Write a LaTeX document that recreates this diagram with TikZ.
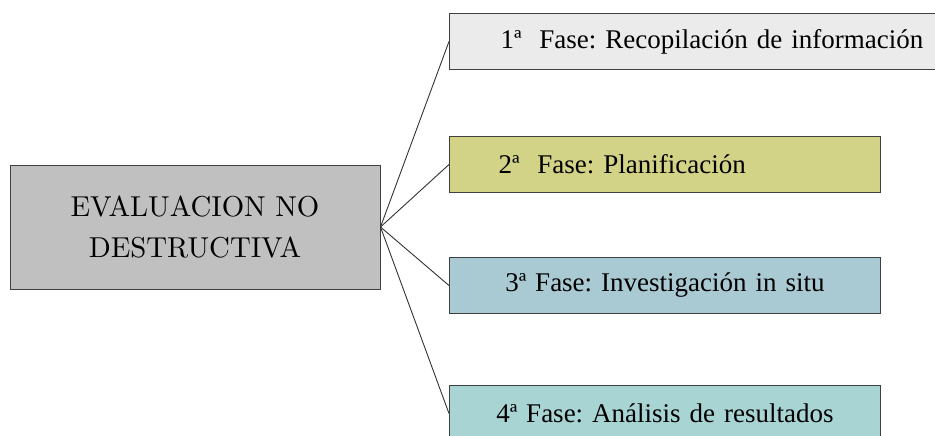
\documentclass[tikz,border=0pt]{standalone}
\usepackage{fontspec}
\newfontfamily\timesfont{Liberation Serif}
\newfontfamily\rootfont{lmroman10-regular.otf}
\definecolor{rootfill}{HTML}{C0C0C0}
\definecolor{edgegray}{HTML}{404040}
\definecolor{phaseone}{HTML}{EBEBEB}
\definecolor{phasetwo}{HTML}{D3D387}
\definecolor{phasethree}{HTML}{A9C9D3}
\definecolor{phasefour}{HTML}{A8D4D4}
\frenchspacing
\begin{document}
\begin{tikzpicture}[x=1pt,y=-1pt,
  rootbox/.style={draw=edgegray, line width=1pt, fill=rootfill,
    minimum width=370pt, minimum height=124pt, inner sep=0pt,
    align=center, font=\rootfont\fontsize{28.8}{41}\selectfont},
  phasebox/.style={draw=edgegray, line width=1pt, anchor=north west,
    minimum height=56pt, inner ysep=0pt,
    font=\timesfont\fontsize{27}{30}\selectfont},
  link/.style={draw=black!80, line width=0.9pt}]
\useasboundingbox (0,0) rectangle (935,436);

% root of the tree
\node[rootbox] (root) at (195,227) {EVALUACION NO\\DESTRUCTIVA};

% the four phases
\node[phasebox, fill=phaseone, minimum width=542pt, text width=440pt,
      inner xsep=51pt, align=left] (f1) at (449,13)
  {1ª\ \ Fase: Recopilación de información};
\node[phasebox, fill=phasetwo, minimum width=431pt, text width=333pt,
      inner xsep=49pt, align=left] (f2) at (449,136)
  {2ª\ \ Fase: Planificación};
\node[phasebox, fill=phasethree, minimum width=431pt, text width=400pt,
      inner xsep=15.5pt, align=center] (f3) at (449,257)
  {3ª Fase: Investigación in situ};
\node[phasebox, fill=phasefour, minimum width=431pt, text width=400pt,
      inner xsep=15.5pt, align=center] (f4) at (449,385)
  {4ª Fase: Análisis de resultados};

% connectors fanning out from the root
\foreach \f in {f1,f2,f3,f4}
  \draw[link] (root.east) -- (\f.west);
\end{tikzpicture}
\end{document}
